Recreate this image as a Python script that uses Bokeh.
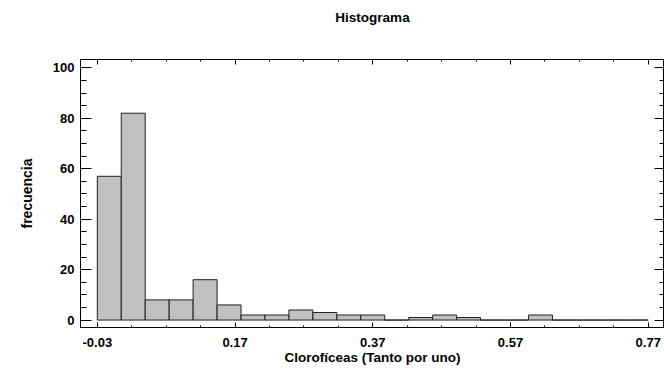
import numpy as np
from bokeh.plotting import figure
from bokeh.models import (LinearAxis, FixedTicker, NumeralTickFormatter, Range1d,
                          ColumnDataSource, Title, CustomJSTickFormatter)
from bokeh.embed import file_html
from bokeh.resources import INLINE

# Histogram data (classes between -0.03 and 0.77)
n_classes = 23
lower_limit = -0.03
upper_limit = 0.77
counts = [57, 82, 8, 8, 16, 6, 2, 2, 4, 3, 2, 2, 0, 1, 2, 1, 0, 0, 2, 0, 0, 0, 0]
x_major_ticks = [-0.03, 0.17, 0.37, 0.57, 0.77]
y_major_ticks = [0, 20, 40, 60, 80, 100]

edges = np.linspace(lower_limit, upper_limit, n_classes + 1)
src = ColumnDataSource(dict(left=edges[:-1], right=edges[1:], top=counts,
                            bottom=[0] * len(counts)))

FONT = "Liberation Sans"

p = figure(width=664, height=371, output_backend="svg", toolbar_location=None,
           x_range=Range1d(-0.0544, 0.7936), y_range=Range1d(-2.95, 103.3),
           x_axis_location=None, y_axis_location=None,
           min_border_left=80, min_border_right=0, min_border_top=0, min_border_bottom=44)

p.title = Title(text="Histograma", align="center", text_font=FONT,
                text_font_size="13.5px", text_font_style="bold", text_color="black",
                standoff=14, padding=(0, 0, 0, 28))

p.grid.visible = False
p.outline_line_color = "black"
p.outline_line_width = 1
p.background_fill_color = "white"
p.border_fill_color = "white"

p.quad(left="left", right="right", top="top", bottom="bottom", source=src,
       fill_color="#c0c0c0", line_color="#202020", line_width=1)

x_minor = [round(v, 2) for v in np.arange(-0.03, 0.7701, 0.05)]
y_minor = list(range(0, 101, 5))


def style_axis(ax, major_in, minor_in, labels=True):
    ax.axis_line_color = "black"
    ax.axis_line_width = 1
    ax.major_tick_line_color = "black"
    ax.minor_tick_line_color = "black"
    ax.major_tick_in = major_in
    ax.major_tick_out = 0
    ax.minor_tick_in = minor_in
    ax.minor_tick_out = 0
    ax.major_label_text_font = FONT
    ax.major_label_text_font_style = "bold"
    ax.major_label_text_color = "black"
    ax.major_label_text_font_size = "13px"
    ax.axis_label_text_font = FONT
    ax.axis_label_text_font_style = "bold"
    ax.axis_label_text_font_size = "13.5px"
    ax.axis_label_text_color = "black"
    if not labels:
        ax.formatter = CustomJSTickFormatter(code="return ''")
        ax.major_label_text_font_size = "1px"
        ax.major_label_standoff = 0


xb = LinearAxis(ticker=FixedTicker(ticks=x_major_ticks, minor_ticks=x_minor),
                formatter=NumeralTickFormatter(format="0.00"),
                axis_label="Clorofíceas (Tanto por uno)")
style_axis(xb, 5, 2)
xb.major_label_standoff = 10
xb.axis_label_standoff = 0
p.add_layout(xb, "below")

xt = LinearAxis(ticker=FixedTicker(ticks=x_major_ticks, minor_ticks=x_minor))
style_axis(xt, 5, 2, labels=False)
p.add_layout(xt, "above")

yl = LinearAxis(ticker=FixedTicker(ticks=y_major_ticks, minor_ticks=y_minor),
                axis_label="frecuencia")
style_axis(yl, 11, 6)
yl.axis_label_text_font_size = "14px"
yl.major_label_standoff = 6
yl.axis_label_standoff = 15
p.add_layout(yl, "left")

yr = LinearAxis(ticker=FixedTicker(ticks=y_major_ticks, minor_ticks=y_minor))
style_axis(yr, 10, 5, labels=False)
p.add_layout(yr, "right")

open("out.html", "w").write(file_html(p, INLINE))
